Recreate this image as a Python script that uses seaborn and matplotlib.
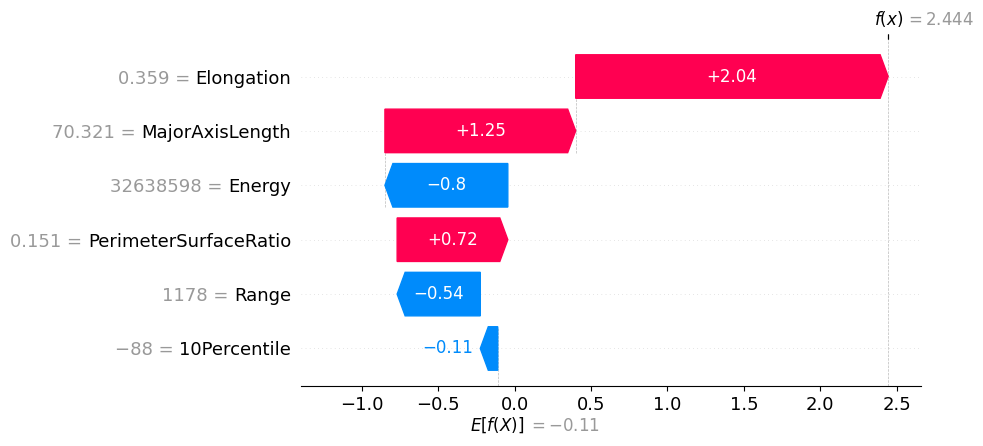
import matplotlib
matplotlib.use("Agg")
import matplotlib.pyplot as plt
import matplotlib.transforms as mtrans
import seaborn as sns

# 1. DATA (top row first)
features = ["Elongation", "MajorAxisLength", "Energy", "PerimeterSurfaceRatio", "Range", "10Percentile"]
feature_values = ["0.359", "70.321", "32638598", "0.151", "1178", "\u221288"]
shap_values = [2.044, 1.248, -0.804, 0.724, -0.544, -0.114]
base_value = -0.110

RED = "#ff0051"
BLUE = "#008bfb"
GRAY = "#999999"


def format_value(v, fmt):
    s = fmt % v
    if "." in s:
        s = s.rstrip("0").rstrip(".")
    return s.replace("-", "\u2212")


# 2. STYLE
sns.set_theme(style="ticks", rc={
    "axes.edgecolor": "black", "axes.linewidth": 0.8,
    "xtick.color": "black", "ytick.color": "black", "text.color": "black",
    "xtick.major.size": 3.5, "xtick.major.width": 0.8,
})
plt.rcParams["font.family"] = ["DejaVu Sans"]

n = len(features)
rows = [n - 1 - i for i in range(n)]
starts = [base_value + sum(shap_values[i + 1:]) for i in range(n)]
fx = base_value + sum(shap_values)

fig = plt.figure(figsize=(9.83, 4.46), dpi=100)
ax = fig.add_axes([0.3062, 0.1345, 0.6312, 0.7781])
ax.set_xlim(-1.397, 2.662)
ax.set_ylim(-0.69, n - 1 + 0.69)

xmin, xmax = ax.get_xlim()
bbox = ax.get_window_extent().transformed(fig.dpi_scale_trans.inverted())
xscale = (xmax - xmin) / bbox.width
hl = 0.08 * xscale
renderer = fig.canvas.get_renderer()

# 3. GRID + CONNECTORS
for y in rows:
    ax.axhline(y, color="#cccccc", lw=0.5, dashes=(1, 5), zorder=-1)
for i in range(n):
    if i + 4 < n:
        ax.plot([starts[i], starts[i]], [rows[i] - 1 - 0.4, rows[i] + 0.4],
                color="#bbbbbb", linestyle="--", linewidth=0.5, zorder=-1)
ax.axvline(base_value, 0, 1 / n, color="#bbbbbb", linestyle="--", linewidth=0.5, zorder=-1)
ax.axvline(fx, 0, 1, color="#bbbbbb", linestyle="--", linewidth=0.5, zorder=-1)

# 4. ARROW BARS
for i in range(n):
    dist = shap_values[i]
    sign = 1 if dist >= 0 else -1
    col = RED if dist >= 0 else BLUE
    arrow = ax.arrow(starts[i], rows[i], sign * max(abs(dist) - hl, 1e-6), 0,
                     head_length=min(abs(dist), hl), color=col, width=0.8, head_width=0.8)
    label = format_value(dist, "%+0.02f")
    txt = ax.text(starts[i] + 0.5 * dist, rows[i], label, ha="center", va="center",
                  color="white", fontsize=12)
    if txt.get_window_extent(renderer=renderer).width > arrow.get_window_extent(renderer=renderer).width:
        txt.remove()
        ax.text(starts[i] + dist + sign * (5 / 72) * xscale, rows[i], label,
                ha="left" if sign > 0 else "right", va="center", color=col, fontsize=12)

# 5. Y LABELS: black feature name as tick label, gray "value =" in front of it
PAD = 7
ax.set_yticks(rows, features, fontsize=13)
ax.tick_params(axis="y", length=0, pad=PAD)
ax.tick_params(axis="x", labelsize=13)
sns.despine(ax=ax, left=True)
for r, v, f in zip(rows, feature_values, features):
    probe = fig.text(0, 0, v + " = " + f, fontsize=13)
    w_full = probe.get_window_extent(renderer=renderer).width / fig.dpi * 72
    probe.remove()
    ax.annotate(v + " =", xy=(0, r), xycoords=ax.get_yaxis_transform(),
                xytext=(-(PAD + w_full), 0), textcoords="offset points",
                ha="left", va="center_baseline", fontsize=13, color=GRAY)

# 6. E[f(X)] and f(x) marks
ax2 = ax.twiny()
ax2.set_xlim(xmin, xmax)
ax2.xaxis.set_ticks_position("bottom")
ax2.set_xticks([base_value, base_value + 1e-8],
               ["$E[f(X)]$", "$ = " + format_value(base_value, "%0.03f") + "$"], fontsize=12, ha="left")
ax2.tick_params(axis="x", length=0, labelsize=12, pad=21.5)
t2 = ax2.xaxis.get_majorticklabels()
t2[0].set_transform(t2[0].get_transform() + mtrans.ScaledTranslation(-20 / 72, 0, fig.dpi_scale_trans))
t2[1].set_transform(t2[1].get_transform() + mtrans.ScaledTranslation(22 / 72, -1 / 72, fig.dpi_scale_trans))
t2[1].set_color(GRAY)
for s in ax2.spines.values():
    s.set_visible(False)

ax3 = ax.twiny()
ax3.set_xlim(xmin, xmax)
ax3.set_xticks([fx, fx + 1e-8],
               ["$f(x)$", "$ = " + format_value(fx, "%0.03f") + "$"], fontsize=12, ha="left")
t3 = ax3.xaxis.get_majorticklabels()
t3[0].set_transform(t3[0].get_transform() + mtrans.ScaledTranslation(-10 / 72, 0, fig.dpi_scale_trans))
t3[1].set_transform(t3[1].get_transform() + mtrans.ScaledTranslation(12 / 72, 0, fig.dpi_scale_trans))
t3[1].set_color(GRAY)
for s in ax3.spines.values():
    s.set_visible(False)

fig.savefig("out.png", dpi=100)
